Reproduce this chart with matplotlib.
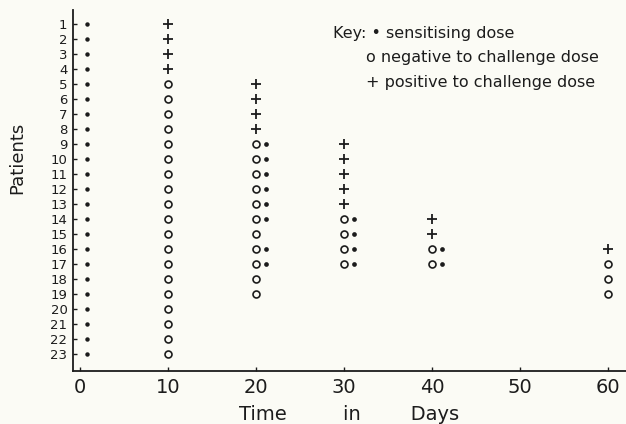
"""Skin-test response chart: sensitising dose, then challenge results by day."""
import matplotlib
matplotlib.use('Agg')
import matplotlib.pyplot as plt
import matplotlib.transforms as mtransforms

# --- data ---------------------------------------------------------------
patients = list(range(1, 24))
day_ticks = [0, 10, 20, 30, 40, 50, 60]

# sensitising dose given at day 0 to every patient
first_dose_days = [0] * 23
first_dose_patients = [1, 2, 3, 4, 5, 6, 7, 8, 9, 10, 11, 12, 13, 14, 15,
                       16, 17, 18, 19, 20, 21, 22, 23]

# positive to challenge dose (+)
pos_days = [10, 10, 10, 10, 20, 20, 20, 20, 30, 30, 30, 30, 30, 40, 40, 60]
pos_patients = [1, 2, 3, 4, 5, 6, 7, 8, 9, 10, 11, 12, 13, 14, 15, 16]

# negative to challenge dose (o)
neg_days = [10] * 19 + [20] * 11 + [30] * 4 + [40] * 2 + [60] * 3
neg_patients = [5, 6, 7, 8, 9, 10, 11, 12, 13, 14, 15, 16, 17, 18, 19, 20,
                21, 22, 23,
                9, 10, 11, 12, 13, 14, 15, 16, 17, 18, 19,
                14, 15, 16, 17,
                16, 17,
                17, 18, 19]

# repeat sensitising dose given next to a negative result (.)
redose_days = [20, 20, 20, 20, 20, 20, 20, 20, 30, 30, 30, 30, 40, 40]
redose_patients = [9, 10, 11, 12, 13, 14, 16, 17, 14, 15, 16, 17, 16, 17]

INK = '#1c1c1c'
PAPER = '#fbfbf5'

plt.rcParams['font.family'] = ['DejaVu Sans']

fig = plt.figure(figsize=(6.26, 4.24), dpi=100, facecolor=PAPER)
ax = fig.add_axes([73 / 626, 1 - 371 / 424, 553 / 626, 361 / 424])
ax.set_facecolor(PAPER)

# the lettered chart sets the day-0 dots a little clear of the axis line
first_shift = mtransforms.offset_copy(ax.transData, fig=fig, x=5, y=0,
                                      units='points')
ax.plot(first_dose_days, first_dose_patients, 'o', ls='none', color=INK,
        ms=3.2, mew=0, transform=first_shift)
ax.plot(pos_days, pos_patients, '+', ls='none', color=INK, ms=7, mew=1.3)
ax.plot(neg_days, neg_patients, 'o', ls='none', mfc='none', mec=INK,
        ms=5.0, mew=1.2)
shift = mtransforms.offset_copy(ax.transData, fig=fig, x=7.2, y=0,
                                units='points')
ax.plot(redose_days, redose_patients, 'o', ls='none', color=INK, ms=3.4,
        mew=0, transform=shift)

ax.set_xlim(-0.8, 62.05)
ax.set_ylim(24.13, 0.07)

for s in ('top', 'right'):
    ax.spines[s].set_visible(False)
for s in ('left', 'bottom'):
    ax.spines[s].set_color(INK)
    ax.spines[s].set_linewidth(1.3)

ax.set_xticks(day_ticks)
ax.set_xticklabels([str(d) for d in day_ticks], fontsize=14, color=INK)
ax.set_yticks(patients)
ax.set_yticklabels([str(p) for p in patients], fontsize=9.5, color=INK)
ax.tick_params(axis='x', direction='in', length=3, width=1, pad=5,
               colors=INK)
ax.tick_params(axis='y', direction='in', length=3, width=1, pad=4,
               colors=INK)

ax.set_xlabel('Time         in        Days', fontsize=14, color=INK)
ax.xaxis.set_label_coords(0.5, -0.095)
ax.set_ylabel('Patients', fontsize=13, color=INK)
ax.yaxis.set_label_coords(-0.085, 0.59)

# hand-lettered key
fig.text(333 / 626, 1 - 38 / 424, 'Key: \u2022 sensitising dose',
         fontsize=11.5, color=INK, va='baseline')
fig.text(366 / 626, 1 - 62 / 424, 'o negative to challenge dose',
         fontsize=11.5, color=INK, va='baseline')
fig.text(366 / 626, 1 - 87 / 424, '+ positive to challenge dose',
         fontsize=11.5, color=INK, va='baseline')

fig.savefig('out.png', dpi=100, facecolor=PAPER)
